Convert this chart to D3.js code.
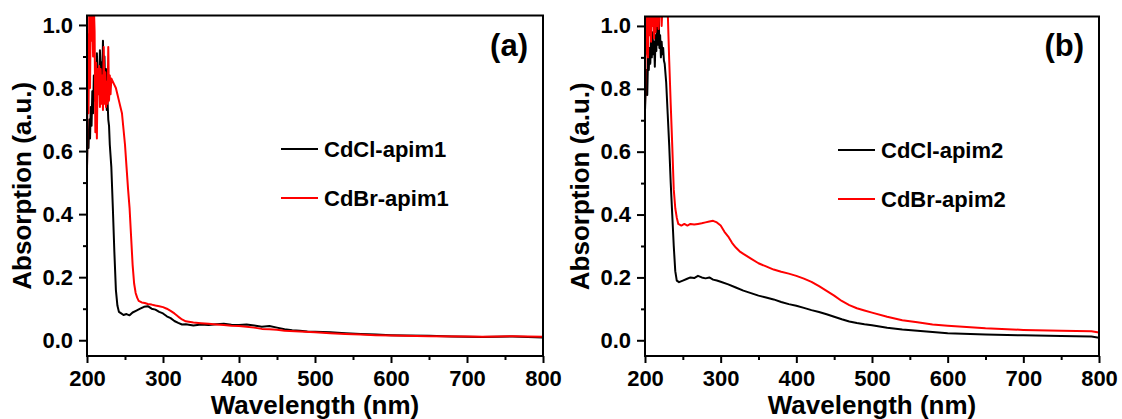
<!DOCTYPE html>
<html>
<head>
<meta charset="utf-8">
<script src="https://cdn.jsdelivr.net/npm/d3@7"></script>
<style>
  body { margin: 0; background: #fff; }
  text { font-family: "Liberation Sans", Arial, sans-serif; font-weight: bold; fill: #000; }
</style>
</head>
<body>
<svg id="chart" width="1122" height="419"></svg>
<script>
// tick values
const xMajor = [200, 300, 400, 500, 600, 700, 800];
const xMinor = [250, 350, 450, 550, 650, 750];
const yMajor = [0.0, 0.2, 0.4, 0.6, 0.8, 1.0];
const yMinor = [0.1, 0.3, 0.5, 0.7, 0.9];

// (a) CdCl-apim1, [wavelength nm, absorption]
const cdClApim1 = [
  [200,0.55],[201,0.66],[202,0.61],[203,0.70],[204,0.64],[205,0.74],[206,0.68],[207,0.79],[208,0.72],[209,0.84],
  [210,0.76],[211,0.88],[212,0.80],[213,0.91],[214,0.83],[215,0.86],[216,0.80],[217,0.92],[218,0.85],[219,0.88],
  [220,0.82],[221,0.95],[222,0.84],[223,0.90],[224,0.78],[225,0.86],[226,0.73],[227,0.76],[228,0.70],[229,0.68],
  [230,0.62],[232,0.55],[234,0.42],[236,0.28],[238,0.16],[240,0.11],[242,0.09],[245,0.085],[248,0.08],[252,0.083],
  [256,0.079],[260,0.088],[265,0.094],[270,0.10],[275,0.106],[280,0.108],[285,0.10],[290,0.097],[295,0.09],[300,0.085],
  [305,0.076],[310,0.07],[315,0.061],[320,0.055],[325,0.05],[330,0.051],[340,0.047],[350,0.05],[360,0.048],[370,0.051],
  [380,0.052],[390,0.049],[400,0.048],[410,0.05],[420,0.047],[430,0.043],[440,0.045],[450,0.040],[460,0.035],[470,0.032],
  [480,0.030],[490,0.028],[500,0.027],[520,0.025],[540,0.022],[560,0.020],[580,0.018],[600,0.016],[620,0.015],[650,0.014],
  [680,0.012],[700,0.011],[720,0.010],[740,0.011],[760,0.012],[780,0.010],[800,0.009]
];

// (a) CdBr-apim1
const cdBrApim1 = [
  [200,0.52],[201,0.97],[202,0.72],[203,1.05],[204,0.80],[205,1.06],[206,0.95],[207,1.06],[208,0.90],[209,1.06],
  [210,0.98],[211,0.66],[212,0.88],[213,0.64],[214,0.86],[215,0.78],[216,0.87],[217,0.74],[218,0.86],[219,0.75],
  [220,0.84],[221,0.73],[222,0.93],[223,0.75],[224,0.85],[225,0.74],[226,0.82],[227,0.75],[228,0.93],[229,0.76],
  [230,0.84],[231,0.78],[232,0.83],[234,0.82],[236,0.81],[238,0.80],[240,0.78],[242,0.76],[244,0.74],[246,0.72],
  [248,0.67],[250,0.62],[252,0.55],[254,0.48],[256,0.42],[258,0.33],[260,0.24],[262,0.18],[264,0.15],[266,0.135],
  [268,0.125],[272,0.12],[276,0.118],[280,0.115],[285,0.113],[290,0.11],[295,0.108],[300,0.105],[305,0.10],[310,0.093],
  [315,0.085],[320,0.075],[325,0.066],[330,0.06],[340,0.056],[350,0.054],[360,0.052],[370,0.050],[380,0.048],[390,0.046],
  [400,0.045],[410,0.043],[420,0.040],[430,0.036],[440,0.035],[450,0.033],[460,0.030],[480,0.028],[500,0.025],[520,0.022],
  [540,0.020],[560,0.018],[580,0.016],[600,0.015],[650,0.013],[700,0.012],[720,0.011],[740,0.012],[760,0.013],[780,0.012],
  [800,0.011]
];

// (b) CdCl-apim2
const cdClApim2 = [
  [200,0.73],[201,0.80],[202,0.86],[203,0.78],[204,0.90],[205,0.86],[206,0.93],[207,0.88],[208,0.96],[209,0.90],
  [210,0.98],[211,0.91],[212,0.95],[213,0.87],[214,0.97],[215,0.92],[216,1.04],[217,0.94],[218,1.05],[219,0.93],
  [220,0.97],[221,0.90],[222,0.95],[223,0.91],[224,0.93],[225,0.89],[226,0.88],[228,0.82],[230,0.72],[232,0.62],
  [234,0.50],[236,0.40],[238,0.30],[240,0.22],[242,0.19],[245,0.185],[250,0.19],[255,0.195],[260,0.20],[265,0.198],
  [270,0.205],[275,0.20],[280,0.197],[285,0.20],[290,0.193],[295,0.19],[300,0.186],[310,0.178],[320,0.168],[330,0.158],
  [340,0.15],[350,0.142],[360,0.136],[370,0.13],[380,0.122],[390,0.115],[400,0.11],[410,0.103],[420,0.096],[430,0.09],
  [440,0.083],[450,0.075],[460,0.067],[470,0.06],[480,0.055],[490,0.051],[500,0.048],[520,0.04],[540,0.034],[560,0.03],
  [580,0.026],[600,0.022],[650,0.018],[700,0.016],[750,0.014],[790,0.012],[800,0.008]
];

// (b) CdBr-apim2
const cdBrApim2 = [
  [200,0.74],[201,0.95],[202,1.05],[203,0.92],[204,0.90],[205,1.05],[206,0.97],[207,1.06],[208,0.95],[209,1.05],
  [210,1.00],[211,1.06],[212,0.96],[213,1.06],[214,0.98],[215,1.06],[216,1.00],[217,1.06],[218,0.99],[219,1.06],
  [220,1.05],[221,1.06],[222,1.00],[223,1.06],[224,1.04],[225,1.06],[226,1.05],[228,1.06],[230,1.05],[232,0.89],
  [234,0.75],[236,0.62],[238,0.48],[240,0.42],[242,0.39],[244,0.37],[248,0.365],[252,0.37],[256,0.365],[260,0.37],
  [265,0.368],[270,0.37],[275,0.372],[280,0.375],[285,0.378],[290,0.38],[295,0.375],[300,0.365],[305,0.345],[310,0.33],
  [315,0.31],[320,0.295],[325,0.283],[330,0.275],[340,0.26],[350,0.245],[360,0.235],[370,0.225],[380,0.218],[390,0.212],
  [400,0.205],[410,0.196],[420,0.186],[430,0.172],[440,0.157],[450,0.142],[460,0.125],[470,0.112],[480,0.102],[490,0.095],
  [500,0.088],[520,0.075],[540,0.064],[560,0.057],[580,0.05],[600,0.046],[650,0.038],[700,0.033],[750,0.03],[790,0.029],
  [800,0.025]
];

const svg = d3.select("#chart");
svg.append("rect").attr("width", 1122).attr("height", 419).attr("fill", "#fff");

function drawPanel(p) {
  let x = d3.scaleLinear().domain([200, 800]).range([p.left, p.right]);
  let y = d3.scaleLinear().domain([-0.05, 1.03]).range([p.bottom, p.top]);
  let g = svg.append("g");

  // clip so the saturated peaks are cut at the frame
  g.append("clipPath").attr("id", "clip" + p.tag)
    .append("rect")
      .attr("x", p.left).attr("y", p.top)
      .attr("width", p.right - p.left).attr("height", p.bottom - p.top);

  let line = d3.line().x(d => x(d[0])).y(d => y(d[1]));
  p.series.forEach(s => {
    g.append("path")
      .datum(s.data)
      .attr("clip-path", "url(#clip" + p.tag + ")")
      .attr("fill", "none")
      .attr("stroke", s.color)
      .attr("stroke-width", 2)
      .attr("stroke-linejoin", "round")
      .attr("d", line);
  });

  // x axis, major + minor
  let xa = g.append("g").attr("transform", "translate(0," + p.bottom + ")")
    .call(d3.axisBottom(x).tickValues(xMajor).tickSize(7).tickPadding(7).tickFormat(d3.format("d")));
  let xm = g.append("g").attr("transform", "translate(0," + p.bottom + ")")
    .call(d3.axisBottom(x).tickValues(xMinor).tickSize(4).tickFormat(""));

  // y axis, major + minor
  let ya = g.append("g").attr("transform", "translate(" + p.left + ",0)")
    .call(d3.axisLeft(y).tickValues(yMajor).tickSize(8).tickPadding(6).tickFormat(d3.format(".1f")));
  let ym = g.append("g").attr("transform", "translate(" + p.left + ",0)")
    .call(d3.axisLeft(y).tickValues(yMinor).tickSize(4).tickFormat(""));

  [xa, xm, ya, ym].forEach(a => {
    a.select(".domain").remove();
    a.selectAll(".tick line").attr("stroke", "#000").attr("stroke-width", 2);
    a.selectAll(".tick text").style("font-size", "22px").attr("fill", "#000");
  });

  // frame
  g.append("rect")
    .attr("x", p.left).attr("y", p.top)
    .attr("width", p.right - p.left).attr("height", p.bottom - p.top)
    .attr("fill", "none").attr("stroke", "#000").attr("stroke-width", 2);

  // axis titles
  g.append("text")
    .attr("x", (p.left + p.right) / 2).attr("y", 414)
    .attr("text-anchor", "middle")
    .style("font-size", "26px")
    .text("Wavelength (nm)");
  g.append("text")
    .attr("transform", "translate(" + (p.left - 56) + "," + ((p.top + p.bottom) / 2) + ") rotate(-90)")
    .attr("text-anchor", "middle")
    .style("font-size", "26px")
    .text("Absorption (a.u.)");

  // panel label
  g.append("text")
    .attr("x", p.right - 15).attr("y", 56)
    .attr("text-anchor", "end")
    .style("font-size", "31px")
    .text(p.label);

  // legend
  p.series.forEach((s, i) => {
    let ly = p.legendY + i * 49;
    g.append("line")
      .attr("x1", p.legendX).attr("x2", p.legendX + 37)
      .attr("y1", ly).attr("y2", ly)
      .attr("stroke", s.color).attr("stroke-width", 2);
    g.append("text")
      .attr("x", p.legendX + 43).attr("y", ly + 8)
      .style("font-size", "22px")
      .text(s.name);
  });
}

drawPanel({
  tag: "a", label: "(a)",
  left: 87, right: 543, top: 15.5, bottom: 356,
  legendX: 281, legendY: 149,
  series: [
    { name: "CdCl-apim1", color: "#000000", data: cdClApim1 },
    { name: "CdBr-apim1", color: "#ff0000", data: cdBrApim1 }
  ]
});

drawPanel({
  tag: "b", label: "(b)",
  left: 645, right: 1099, top: 16.5, bottom: 356,
  legendX: 838, legendY: 150,
  series: [
    { name: "CdCl-apim2", color: "#000000", data: cdClApim2 },
    { name: "CdBr-apim2", color: "#ff0000", data: cdBrApim2 }
  ]
});
</script>
</body>
</html>
